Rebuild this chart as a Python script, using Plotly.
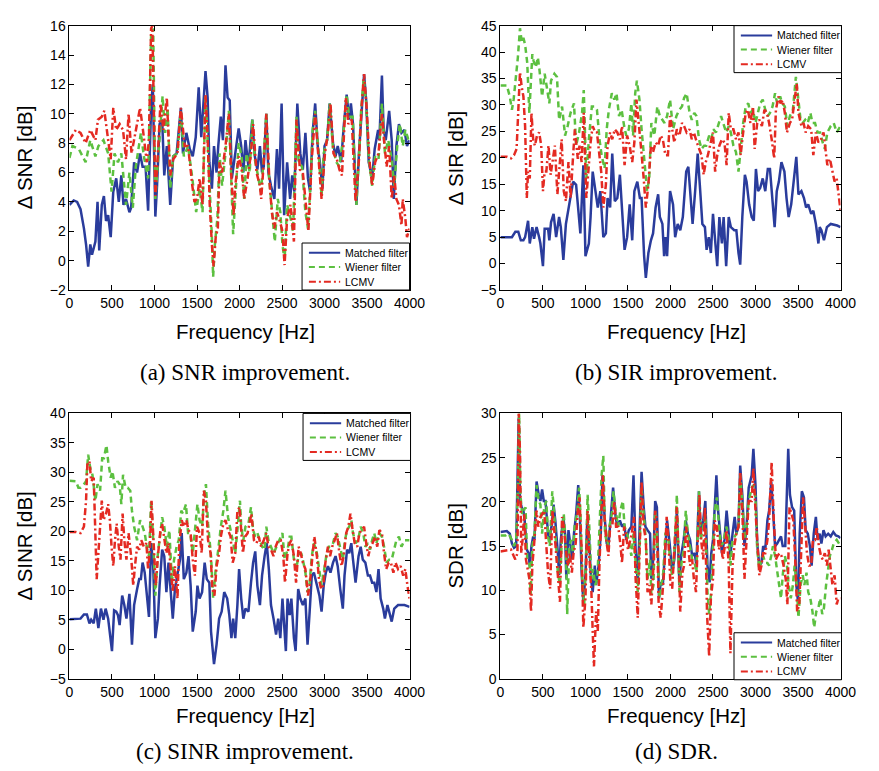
import plotly.graph_objects as go

W, H = 879, 771

# ---------------- (a) SNR improvement: (frequency [Hz], dB) ----------------
snr_matched = [(0,3.8),(50,4.1),(90,4.0),(130,3.5),(170,2.2),(195,1.1),(220,-0.4),(245,1.1),(265,0.4),(305,1.3),(330,4.0),(350,0.7),(380,3.8),(405,4.4),(430,2.7),(455,3.1),(485,1.6),(515,4.7),(550,5.6),(580,4.0),(610,5.8),(635,3.8),(665,4.2),(705,3.3),(725,3.6),(760,6.7),(795,6.0),(830,7.3),(860,6.4),(895,6.4),(925,3.4),(960,10.5),(980,12.0),(1010,3.0),(1030,5.1),(1060,9.3),(1090,9.6),(1115,5.8),(1145,7.8),(1185,3.8),(1220,7.1),(1260,7.3),(1310,10.4),(1335,7.3),(1375,8.7),(1415,7.6),(1450,7.1),(1485,8.4),(1520,11.8),(1550,8.4),(1600,12.9),(1625,11.1),(1645,6.7),(1675,4.9),(1700,7.8),(1730,6.0),(1750,7.8),(1780,9.8),(1805,8.2),(1835,13.3),(1860,11.1),(1885,10.9),(1910,5.6),(1950,7.3),(1990,9.0),(2020,7.8),(2045,6.0),(2070,8.2),(2105,6.4),(2150,9.6),(2180,7.1),(2210,6.2),(2240,7.8),(2265,6.0),(2285,6.4),(2315,10.0),(2340,6.0),(2370,5.1),(2410,4.2),(2440,7.6),(2465,4.9),(2495,10.7),(2525,3.1),(2560,6.7),(2595,4.2),(2620,5.8),(2645,4.7),(2680,10.7),(2715,7.3),(2745,6.2),(2775,8.7),(2805,5.6),(2830,4.7),(2860,8.7),(2890,10.7),(2920,7.8),(2945,6.7),(2975,4.9),(3000,7.8),(3030,8.2),(3060,10.7),(3100,8.0),(3130,7.1),(3155,7.8),(3195,6.7),(3225,9.1),(3260,11.3),(3290,9.6),(3310,10.7),(3335,9.3),(3375,3.8),(3405,7.3),(3435,10.2),(3465,12.7),(3490,10.9),(3520,6.7),(3560,5.6),(3590,7.6),(3630,8.9),(3645,8.2),(3675,12.6),(3695,8.9),(3720,8.2),(3760,10.2),(3790,8.2),(3815,4.2),(3845,7.8),(3875,9.3),(3905,8.7),(3940,8.9),(3970,7.8),(4000,8.2)]
snr_wiener = [(0,7.0),(35,7.8),(110,7.6),(190,6.7),(245,8.2),(305,7.1),(340,7.8),(400,8.2),(455,7.3),(495,4.7),(530,7.3),(570,6.7),(610,7.3),(665,3.8),(705,6.0),(745,3.6),(780,6.4),(840,8.7),(875,7.1),(925,5.6),(960,15.3),(985,15.8),(1010,4.2),(1040,6.7),(1070,9.6),(1095,11.2),(1125,8.7),(1155,10.4),(1185,4.9),(1220,7.1),(1270,7.3),(1310,10.2),(1345,7.1),(1395,7.8),(1445,5.6),(1490,3.3),(1530,4.9),(1565,3.3),(1600,11.3),(1625,8.2),(1650,4.2),(1675,1.6),(1690,-1.1),(1710,1.1),(1740,2.9),(1765,7.3),(1795,5.1),(1835,7.3),(1875,10.2),(1905,5.1),(1925,1.8),(1950,4.2),(1990,8.0),(2025,7.1),(2055,4.2),(2085,7.3),(2120,6.0),(2150,9.6),(2180,6.9),(2210,6.0),(2250,4.7),(2275,6.2),(2315,10.0),(2345,5.8),(2370,4.2),(2390,3.3),(2415,1.3),(2450,4.2),(2480,3.3),(2505,1.1),(2530,0.0),(2560,3.8),(2600,2.9),(2630,2.0),(2670,9.8),(2695,6.7),(2735,6.4),(2775,3.3),(2805,2.2),(2830,4.7),(2860,8.9),(2890,10.2),(2925,7.8),(2965,4.4),(2990,7.3),(3030,8.2),(3060,10.7),(3100,7.6),(3140,6.7),(3175,6.4),(3215,8.2),(3260,11.3),(3290,9.8),(3330,9.8),(3375,3.8),(3405,7.1),(3430,10.2),(3460,12.4),(3490,10.7),(3520,6.9),(3560,5.1),(3595,7.1),(3635,6.9),(3675,10.7),(3710,7.3),(3750,8.2),(3790,6.9),(3820,5.1),(3855,7.8),(3885,9.3),(3920,7.8),(3950,8.9),(4000,8.0)]
snr_lcmv = [(0,8.2),(75,8.9),(130,8.7),(190,8.0),(245,8.9),(305,8.2),(335,9.6),(380,9.8),(410,10.2),(455,8.2),(485,6.9),(515,10.4),(550,8.9),(590,9.3),(630,8.9),(665,6.9),(695,10.0),(730,7.3),(780,8.9),(830,10.4),(860,9.1),(910,6.7),(935,8.2),(960,15.8),(975,16.0),(1010,4.4),(1040,7.3),(1070,10.7),(1105,8.9),(1145,11.1),(1185,5.8),(1220,6.9),(1270,7.3),(1310,10.4),(1355,7.8),(1395,7.8),(1445,5.1),(1470,4.0),(1500,4.2),(1530,5.6),(1565,3.8),(1600,11.3),(1625,8.4),(1650,3.8),(1675,1.1),(1695,-0.4),(1720,1.6),(1745,2.2),(1765,6.7),(1795,6.0),(1835,7.8),(1875,10.0),(1905,5.6),(1930,3.1),(1950,5.1),(1990,7.1),(2025,6.2),(2055,4.2),(2095,5.6),(2135,7.3),(2160,9.3),(2200,6.0),(2240,5.1),(2255,4.2),(2285,6.7),(2315,10.0),(2350,5.6),(2380,3.3),(2410,2.2),(2440,3.3),(2465,2.9),(2505,2.0),(2530,-0.3),(2560,2.9),(2600,3.8),(2640,1.3),(2670,9.6),(2710,6.2),(2745,6.0),(2785,3.8),(2810,2.0),(2850,6.9),(2890,10.0),(2925,7.3),(2965,4.2),(3005,7.3),(3040,8.7),(3070,10.7),(3105,7.3),(3145,6.9),(3175,6.2),(3205,5.8),(3250,11.1),(3280,9.3),(3320,9.6),(3365,4.0),(3405,6.9),(3435,10.4),(3465,12.7),(3495,10.4),(3530,6.7),(3560,5.1),(3595,6.7),(3635,7.3),(3675,10.0),(3700,8.2),(3730,6.4),(3760,7.8),(3790,4.2),(3820,5.8),(3845,4.2),(3875,3.8),(3905,2.4),(3920,4.2),(3950,2.9),(3970,1.6),(4000,2.2)]

# ---------------- (b) SIR improvement ----------------
sir_matched = [(0,5.0),(135,5.0),(175,6.0),(210,6.0),(240,4.4),(270,4.4),(290,5.0),(325,8.1),(345,3.8),(375,6.9),(395,4.7),(425,6.9),(455,5.0),(470,3.8),(500,-0.5),(520,6.6),(560,6.6),(575,4.4),(595,7.8),(625,9.4),(655,5.0),(690,8.8),(710,6.9),(740,0.7),(770,7.5),(810,11.2),(855,15.5),(890,14.9),(940,5.7),(975,18.6),(1000,1.4),(1040,3.8),(1060,8.8),(1085,17.4),(1125,12.4),(1145,10.6),(1175,13.7),(1210,5.0),(1240,5.7),(1260,12.4),(1290,10.6),(1315,20.8),(1345,11.8),(1375,12.4),(1405,16.8),(1435,8.8),(1460,2.6),(1490,5.0),(1520,11.2),(1550,4.4),(1575,13.7),(1610,15.5),(1640,12.4),(1660,12.4),(1690,1.4),(1710,-2.7),(1740,2.0),(1770,4.4),(1795,5.7),(1825,10.6),(1855,13.1),(1875,8.8),(1905,7.5),(1925,1.4),(1940,5.0),(1960,1.4),(1995,13.7),(2030,11.2),(2055,5.0),(2085,7.5),(2115,6.3),(2145,8.8),(2185,17.4),(2210,18.3),(2240,12.4),(2260,7.5),(2290,13.7),(2320,20.8),(2345,14.9),(2375,7.5),(2405,6.9),(2425,2.6),(2450,5.0),(2475,2.0),(2500,9.4),(2530,3.2),(2550,-0.5),(2575,8.8),(2605,3.8),(2625,8.8),(2655,-0.5),(2685,8.8),(2710,6.9),(2750,6.3),(2775,6.3),(2800,2.0),(2820,-0.2),(2845,8.8),(2875,16.8),(2895,15.5),(2925,11.2),(2955,8.8),(2980,8.1),(3005,17.9),(3030,13.7),(3055,14.3),(3085,16.1),(3115,13.7),(3145,17.9),(3170,17.9),(3200,12.4),(3225,6.9),(3250,13.7),(3275,15.5),(3305,19.2),(3340,17.4),(3365,12.4),(3390,8.8),(3420,11.2),(3450,16.1),(3480,20.2),(3505,13.1),(3540,13.7),(3570,12.4),(3595,10.6),(3620,11.2),(3655,9.4),(3680,10.0),(3710,7.5),(3740,3.8),(3755,6.9),(3775,6.3),(3805,4.4),(3840,6.9),(3885,7.5),(3960,7.2),(4000,6.9)]
sir_wiener = [(0,33.7),(75,33.7),(110,31.6),(135,29.1),(155,31.0),(205,39.0),(230,44.5),(250,42.0),(270,42.7),(290,41.4),(315,38.0),(340,28.5),(355,33.4),(375,39.6),(390,38.3),(415,37.1),(440,39.0),(460,36.5),(490,31.6),(520,35.9),(545,33.4),(575,30.3),(595,34.6),(635,35.9),(665,35.3),(690,27.2),(725,29.7),(760,24.2),(790,26.0),(825,28.5),(865,30.3),(890,22.3),(925,24.8),(960,28.5),(980,32.8),(1010,16.1),(1040,23.5),(1075,29.7),(1110,29.7),(1135,29.1),(1165,23.5),(1190,20.5),(1225,18.0),(1250,25.4),(1275,29.1),(1310,32.2),(1340,31.0),(1365,32.2),(1395,27.9),(1425,29.1),(1455,26.0),(1480,24.2),(1510,25.4),(1540,30.3),(1560,24.2),(1585,32.2),(1605,34.6),(1635,31.0),(1660,25.4),(1690,20.5),(1725,13.7),(1750,16.1),(1775,26.6),(1810,24.2),(1845,29.7),(1875,27.9),(1905,27.2),(1930,26.6),(1960,27.9),(1995,31.0),(2030,25.4),(2070,27.9),(2105,29.1),(2135,29.7),(2160,31.3),(2190,32.2),(2225,28.5),(2250,27.2),(2280,28.5),(2305,27.9),(2335,23.5),(2365,21.7),(2395,22.3),(2420,22.3),(2455,24.2),(2480,23.5),(2505,25.4),(2535,24.8),(2570,26.6),(2595,27.9),(2620,26.6),(2655,24.8),(2685,26.0),(2710,24.8),(2740,22.3),(2770,21.1),(2800,17.4),(2825,21.1),(2855,26.6),(2885,29.7),(2915,30.3),(2940,28.5),(2970,29.1),(3000,26.6),(3030,28.5),(3055,30.3),(3085,31.0),(3115,29.1),(3145,27.9),(3170,28.5),(3200,29.7),(3230,32.2),(3255,30.3),(3290,31.6),(3315,30.3),(3345,29.7),(3375,26.0),(3405,27.9),(3440,29.1),(3475,35.3),(3500,31.6),(3530,27.2),(3555,26.6),(3585,27.2),(3615,26.6),(3645,28.5),(3670,26.6),(3700,26.6),(3730,24.8),(3760,24.8),(3790,22.9),(3815,21.7),(3845,24.8),(3885,26.0),(3920,26.6),(3955,24.8),(4000,26.0)]
sir_lcmv = [(0,20.2),(75,20.2),(125,19.9),(160,20.5),(190,21.7),(210,30.3),(230,36.2),(250,33.4),(270,31.6),(290,26.0),(310,12.4),(325,17.4),(345,16.1),(365,28.5),(385,23.5),(405,22.3),(430,24.2),(455,24.8),(480,22.3),(500,13.7),(520,17.4),(540,17.4),(565,22.3),(590,16.8),(615,19.2),(640,22.3),(670,13.1),(690,17.4),(720,23.5),(745,13.7),(770,11.8),(800,19.2),(825,12.4),(855,20.5),(875,25.4),(910,19.8),(930,22.3),(955,19.2),(980,28.5),(1010,12.4),(1030,17.4),(1060,22.9),(1085,26.0),(1115,24.8),(1135,24.8),(1160,20.5),(1185,17.4),(1210,10.6),(1240,14.9),(1260,22.3),(1290,24.8),(1315,23.5),(1345,25.4),(1375,24.8),(1405,23.5),(1430,26.0),(1460,18.6),(1490,24.2),(1520,22.3),(1550,19.2),(1575,22.9),(1600,31.0),(1625,27.2),(1655,21.7),(1685,16.1),(1710,10.6),(1740,14.9),(1770,22.3),(1795,21.1),(1825,22.9),(1855,22.3),(1885,24.2),(1910,23.5),(1940,20.5),(1970,20.5),(1995,27.9),(2020,25.4),(2045,22.9),(2075,25.4),(2105,24.2),(2135,26.6),(2160,26.0),(2190,24.8),(2225,25.4),(2250,23.5),(2275,24.8),(2310,22.9),(2335,21.7),(2365,20.5),(2390,16.8),(2415,19.2),(2440,20.5),(2470,22.9),(2500,24.8),(2525,17.4),(2550,20.5),(2575,22.3),(2605,23.5),(2635,22.9),(2660,18.6),(2685,28.5),(2710,25.4),(2740,25.4),(2770,23.5),(2800,24.8),(2825,20.5),(2855,24.8),(2885,28.5),(2910,29.1),(2940,26.6),(2970,29.7),(2990,21.7),(3020,26.6),(3045,27.2),(3075,26.0),(3105,29.1),(3135,28.5),(3160,26.6),(3190,23.5),(3220,19.9),(3240,29.1),(3270,31.6),(3295,30.3),(3320,30.9),(3345,28.5),(3370,24.8),(3405,26.6),(3430,27.2),(3460,31.0),(3485,34.0),(3505,28.5),(3540,26.0),(3565,26.6),(3590,24.8),(3620,26.0),(3655,25.4),(3680,20.5),(3710,24.8),(3740,22.9),(3770,23.5),(3800,24.8),(3825,21.7),(3845,18.6),(3875,19.8),(3905,17.4),(3930,15.5),(3955,16.1),(3975,13.1),(4000,10.0)]

# ---------------- (c) SINR improvement ----------------
sinr_matched = [(0,5.1),(130,5.2),(170,5.9),(205,5.9),(235,4.4),(255,5.0),(285,4.4),(310,6.9),(340,3.6),(370,6.9),(400,5.0),(425,6.9),(455,5.2),(475,3.0),(500,-0.3),(525,6.6),(550,6.4),(570,5.8),(590,4.1),(620,9.1),(645,7.5),(670,5.2),(705,9.4),(735,0.8),(760,7.5),(795,10.2),(820,11.9),(840,11.9),(860,14.7),(885,13.0),(910,9.1),(935,5.5),(960,18.0),(985,14.1),(1010,1.9),(1040,5.2),(1060,10.8),(1090,16.9),(1115,15.8),(1140,9.7),(1165,14.7),(1185,11.3),(1215,5.2),(1240,10.2),(1270,13.0),(1300,15.2),(1320,19.7),(1345,11.9),(1375,13.0),(1400,15.8),(1425,10.8),(1450,3.0),(1485,6.4),(1505,10.8),(1530,8.6),(1560,9.7),(1590,14.7),(1615,11.9),(1645,11.3),(1665,3.0),(1700,-2.5),(1730,0.8),(1760,5.2),(1790,6.4),(1820,9.7),(1855,8.6),(1880,5.8),(1905,1.9),(1925,5.2),(1950,1.9),(1975,7.5),(1995,13.6),(2020,8.6),(2045,5.2),(2070,6.9),(2105,6.4),(2135,11.3),(2160,14.7),(2185,16.6),(2210,10.8),(2240,7.5),(2265,12.5),(2295,15.8),(2320,18.0),(2345,13.6),(2370,7.5),(2400,5.2),(2430,2.5),(2455,5.2),(2480,1.9),(2505,8.6),(2525,3.0),(2545,-0.3),(2565,8.6),(2590,5.8),(2610,8.6),(2640,1.9),(2660,-0.3),(2690,10.2),(2715,8.6),(2745,7.5),(2775,8.6),(2800,0.8),(2825,6.4),(2850,12.5),(2875,13.0),(2910,10.8),(2940,9.1),(2965,6.4),(2990,10.8),(3015,13.0),(3040,14.1),(3070,13.0),(3100,14.7),(3130,15.8),(3155,14.1),(3185,10.2),(3215,6.9),(3235,12.5),(3265,16.9),(3290,16.3),(3315,18.0),(3335,15.2),(3365,11.3),(3400,15.8),(3425,17.4),(3450,15.2),(3480,14.7),(3510,12.5),(3535,12.5),(3560,11.3),(3585,11.3),(3610,9.7),(3635,13.6),(3660,8.6),(3690,6.9),(3710,5.2),(3740,7.5),(3760,6.4),(3790,4.7),(3820,6.9),(3865,7.5),(3940,7.5),(4000,7.2)]
sinr_wiener = [(0,28.6),(75,28.5),(105,27.4),(130,27.4),(170,28.0),(195,28.5),(220,33.0),(245,30.7),(270,29.6),(305,25.2),(330,28.0),(360,26.9),(385,32.4),(405,32.4),(435,34.6),(455,31.9),(485,29.1),(505,30.2),(535,27.4),(565,28.5),(590,28.0),(610,24.6),(630,29.6),(660,27.4),(685,27.4),(715,26.9),(735,23.5),(760,20.8),(795,18.5),(830,21.9),(860,20.8),(885,19.7),(915,16.9),(935,15.8),(960,25.2),(985,18.5),(1010,9.1),(1040,16.3),(1070,19.7),(1090,22.4),(1115,20.8),(1145,17.4),(1175,20.2),(1205,11.3),(1230,15.2),(1260,17.4),(1285,18.5),(1315,23.5),(1335,23.0),(1370,24.6),(1395,19.7),(1420,19.7),(1450,16.3),(1480,20.8),(1505,24.6),(1530,21.9),(1560,20.8),(1585,26.3),(1605,28.0),(1630,21.3),(1665,15.8),(1690,8.6),(1720,13.6),(1750,16.9),(1780,20.8),(1810,23.5),(1835,26.9),(1865,22.4),(1895,20.2),(1920,18.0),(1950,16.3),(1975,20.2),(2005,25.2),(2020,20.8),(2045,18.5),(2070,20.8),(2105,21.3),(2135,24.1),(2160,20.2),(2185,19.1),(2210,19.7),(2240,18.5),(2265,17.4),(2295,16.9),(2315,20.8),(2340,18.5),(2370,17.4),(2400,16.3),(2420,16.9),(2450,18.0),(2480,19.1),(2505,19.7),(2530,15.2),(2565,16.9),(2590,19.1),(2610,19.1),(2640,15.2),(2665,13.6),(2695,15.8),(2725,16.3),(2745,15.2),(2775,13.0),(2800,9.7),(2825,11.3),(2850,15.8),(2875,18.0),(2910,16.3),(2940,13.0),(2965,10.8),(2990,13.0),(3020,15.8),(3050,17.4),(3075,17.4),(3100,18.0),(3130,19.7),(3155,19.1),(3185,16.9),(3215,15.2),(3240,18.5),(3265,20.2),(3290,20.8),(3315,21.9),(3335,19.7),(3365,18.0),(3395,18.5),(3425,20.8),(3455,19.7),(3480,17.4),(3510,18.0),(3535,16.9),(3560,18.5),(3585,19.7),(3610,18.0),(3645,19.7),(3675,19.1),(3700,17.4),(3730,14.7),(3760,15.2),(3790,15.2),(3820,16.9),(3845,18.5),(3875,19.1),(3905,17.4),(3940,18.5),(4000,18.5)]
sinr_lcmv = [(0,19.9),(75,19.9),(130,19.7),(170,20.8),(195,25.2),(210,31.3),(235,31.9),(255,28.5),(285,29.1),(305,18.5),(320,11.9),(340,16.3),(360,21.3),(380,25.2),(400,21.9),(430,23.0),(455,24.6),(475,21.9),(495,17.4),(515,14.1),(535,18.5),(555,21.3),(580,17.4),(600,15.2),(625,23.0),(645,18.5),(670,15.2),(695,19.7),(725,15.8),(750,10.8),(770,14.1),(795,17.4),(820,16.9),(845,18.5),(875,17.4),(905,18.0),(925,13.5),(945,16.9),(965,25.2),(990,18.5),(1015,10.8),(1040,15.8),(1070,20.2),(1090,21.3),(1115,19.1),(1140,16.3),(1165,18.0),(1190,14.1),(1215,9.7),(1240,14.1),(1270,8.6),(1290,17.4),(1320,21.9),(1345,20.8),(1375,21.9),(1400,20.2),(1425,19.7),(1450,15.2),(1475,12.5),(1500,20.8),(1530,19.7),(1555,16.3),(1580,26.9),(1605,25.2),(1630,18.5),(1660,16.3),(1680,10.2),(1705,9.1),(1730,14.1),(1760,16.3),(1780,19.1),(1810,21.3),(1835,21.9),(1865,20.2),(1895,19.1),(1920,14.7),(1950,16.3),(1975,23.5),(2000,24.1),(2040,16.3),(2065,19.1),(2095,19.7),(2120,21.3),(2140,23.0),(2170,18.5),(2200,18.0),(2225,19.1),(2255,17.4),(2285,18.5),(2315,19.7),(2340,17.4),(2370,16.9),(2400,15.8),(2425,17.4),(2455,18.5),(2485,18.5),(2515,15.8),(2535,11.3),(2565,16.3),(2590,18.0),(2610,18.5),(2640,15.8),(2665,11.3),(2695,17.4),(2720,16.3),(2745,14.7),(2775,13.6),(2805,9.1),(2825,10.8),(2855,15.8),(2880,19.1),(2910,15.8),(2935,11.9),(2960,10.2),(2985,10.8),(3010,14.7),(3040,17.4),(3065,15.8),(3090,17.4),(3120,18.5),(3145,19.7),(3175,16.3),(3200,14.1),(3225,15.8),(3255,19.7),(3280,20.8),(3305,23.0),(3330,20.2),(3355,18.0),(3385,17.4),(3410,19.7),(3435,20.2),(3465,20.8),(3490,18.0),(3515,15.8),(3540,17.4),(3565,18.0),(3595,19.1),(3620,17.4),(3645,20.2),(3675,19.7),(3700,16.3),(3725,13.6),(3755,14.7),(3780,14.7),(3810,13.0),(3835,14.7),(3865,13.6),(3895,14.1),(3925,12.5),(3950,13.6),(3975,10.8),(4000,8.6)]

# ---------------- (d) SDR ----------------
sdr_matched = [(0,16.6),(75,16.7),(110,16.4),(135,15.3),(160,14.8),(185,15.0),(215,29.5),(230,20.1),(250,19.4),(270,19.0),(285,17.9),(310,14.6),(330,14.2),(345,12.8),(365,15.0),(385,16.1),(400,15.7),(425,22.3),(450,20.8),(470,20.1),(490,21.4),(510,20.1),(530,20.1),(560,16.4),(575,15.7),(605,17.5),(625,19.7),(645,17.9),(675,14.2),(690,11.7),(710,15.7),(740,18.3),(760,16.4),(775,11.3),(800,16.8),(820,15.3),(845,13.5),(865,16.4),(890,18.6),(915,21.9),(935,18.3),(955,12.0),(975,8.7),(1000,11.7),(1020,17.9),(1040,16.4),(1065,11.3),(1085,9.8),(1110,12.8),(1125,10.6),(1155,12.8),(1180,16.4),(1200,23.0),(1225,18.3),(1250,15.3),(1270,15.0),(1300,19.0),(1325,21.6),(1355,18.3),(1375,17.2),(1405,17.9),(1430,17.2),(1455,17.5),(1480,15.7),(1510,16.8),(1540,17.2),(1565,23.0),(1590,14.6),(1615,10.9),(1635,15.7),(1660,23.4),(1685,19.4),(1705,17.2),(1730,16.8),(1760,16.4),(1775,11.3),(1800,13.9),(1820,20.1),(1840,19.4),(1865,9.1),(1885,10.9),(1910,10.6),(1930,13.9),(1960,17.9),(1990,15.3),(2020,12.0),(2045,13.5),(2075,19.0),(2105,10.6),(2125,13.9),(2155,15.7),(2180,17.9),(2205,16.4),(2230,15.7),(2255,13.9),(2285,14.2),(2305,12.8),(2335,21.2),(2355,16.4),(2385,17.9),(2410,20.1),(2435,12.8),(2460,10.9),(2480,14.2),(2500,15.7),(2520,20.1),(2540,23.0),(2560,19.0),(2585,16.4),(2605,14.2),(2635,15.7),(2660,19.0),(2685,16.4),(2705,13.9),(2730,16.4),(2755,18.3),(2775,16.4),(2800,17.2),(2820,24.1),(2845,20.8),(2870,15.0),(2895,17.2),(2920,21.6),(2955,23.0),(2975,26.0),(3000,21.9),(3020,15.3),(3045,12.8),(3070,13.1),(3090,15.0),(3115,14.6),(3140,17.9),(3160,19.0),(3185,22.3),(3205,19.4),(3230,15.0),(3255,15.3),(3275,15.7),(3300,16.1),(3320,15.0),(3350,15.0),(3385,26.0),(3405,20.8),(3430,19.4),(3455,19.0),(3480,10.6),(3500,8.7),(3520,16.4),(3545,21.2),(3570,20.5),(3590,16.8),(3615,16.4),(3640,15.0),(3660,12.8),(3685,16.4),(3710,18.3),(3730,15.7),(3755,16.4),(3775,15.3),(3800,16.8),(3825,16.1),(3855,16.4),(3885,16.1),(3915,16.6),(3945,16.2),(3975,16.1),(4000,15.9)]
sdr_wiener = [(0,16.2),(60,16.2),(95,16.4),(135,15.7),(160,15.0),(185,15.7),(210,23.8),(220,30.0),(235,20.8),(255,18.6),(275,19.0),(295,19.4),(315,13.5),(340,13.1),(355,9.5),(375,15.0),(400,16.4),(425,21.9),(450,20.1),(470,19.7),(490,16.4),(515,19.4),(540,20.1),(560,16.1),(580,15.0),(610,21.2),(630,19.0),(655,15.7),(675,12.0),(700,10.6),(725,16.4),(745,18.6),(770,15.0),(785,7.3),(810,15.0),(830,15.7),(855,14.2),(875,17.5),(900,18.6),(925,21.6),(940,19.0),(965,10.6),(985,8.4),(1010,14.6),(1025,20.8),(1045,17.2),(1070,11.3),(1090,12.4),(1115,10.6),(1140,11.3),(1165,16.4),(1190,23.0),(1210,25.2),(1230,16.4),(1260,15.0),(1280,17.2),(1310,18.6),(1330,21.2),(1355,19.0),(1385,17.2),(1410,19.0),(1440,20.1),(1460,17.2),(1490,16.4),(1515,15.3),(1540,13.9),(1565,16.4),(1590,12.8),(1615,9.8),(1640,15.7),(1660,21.6),(1685,18.6),(1710,15.7),(1730,11.3),(1760,13.5),(1775,9.5),(1800,10.6),(1820,19.0),(1845,15.7),(1870,9.1),(1890,10.6),(1915,12.0),(1940,16.4),(1970,16.4),(2000,12.8),(2020,11.7),(2045,14.2),(2075,20.8),(2105,9.8),(2130,13.1),(2155,14.6),(2180,19.0),(2205,16.4),(2230,15.0),(2255,13.5),(2285,13.1),(2305,12.0),(2335,21.2),(2355,15.7),(2385,17.2),(2410,18.6),(2435,9.8),(2455,7.3),(2475,9.5),(2500,15.3),(2520,19.0),(2545,20.5),(2570,16.8),(2590,15.0),(2615,15.3),(2640,16.4),(2660,17.2),(2685,15.7),(2705,12.8),(2730,15.7),(2755,16.1),(2775,16.4),(2800,17.2),(2820,23.0),(2845,20.1),(2870,15.7),(2895,17.2),(2920,20.1),(2955,21.6),(2975,21.9),(3000,20.5),(3020,14.6),(3045,12.4),(3070,13.5),(3090,13.9),(3115,13.1),(3140,13.1),(3160,12.8),(3185,13.9),(3205,15.0),(3230,13.9),(3255,12.0),(3275,10.6),(3300,9.1),(3320,11.7),(3345,13.9),(3370,12.8),(3390,10.6),(3415,9.1),(3440,10.6),(3460,12.8),(3485,10.6),(3505,6.9),(3530,10.6),(3555,11.7),(3575,10.6),(3600,12.0),(3620,9.8),(3645,9.1),(3670,7.6),(3690,5.8),(3715,7.6),(3740,8.0),(3760,9.1),(3785,7.3),(3805,8.0),(3830,10.6),(3855,12.8),(3875,13.9),(3900,14.6),(3920,15.3),(3955,15.7),(3980,15.3),(4000,15.0)]
sdr_lcmv = [(0,14.4),(75,14.5),(125,14.6),(155,13.9),(175,13.5),(200,14.2),(215,30.0),(230,25.6),(245,14.2),(260,15.7),(280,18.6),(300,13.5),(320,12.4),(340,11.3),(360,7.6),(375,12.8),(400,15.7),(425,19.0),(445,17.2),(470,18.3),(490,18.6),(515,19.0),(540,15.0),(560,12.0),(585,10.2),(610,19.0),(630,17.2),(655,14.2),(675,11.3),(700,8.7),(725,18.3),(745,17.2),(770,14.6),(790,12.8),(815,14.2),(840,12.0),(860,14.2),(885,15.3),(910,19.0),(930,20.5),(955,14.6),(975,5.8),(1000,9.1),(1025,19.0),(1045,13.9),(1070,9.8),(1085,5.4),(1100,1.4),(1125,7.6),(1145,5.4),(1165,13.1),(1185,18.6),(1205,23.0),(1225,18.3),(1245,15.7),(1270,13.9),(1290,17.2),(1315,17.2),(1340,20.1),(1360,17.2),(1385,17.2),(1410,15.3),(1430,13.1),(1455,17.2),(1475,16.4),(1500,14.6),(1525,15.7),(1545,16.4),(1570,18.3),(1590,11.3),(1615,6.9),(1640,17.2),(1660,22.3),(1685,17.2),(1710,15.7),(1730,9.8),(1755,10.6),(1775,8.4),(1800,12.8),(1820,19.0),(1840,17.9),(1860,8.7),(1885,6.9),(1910,10.2),(1930,12.8),(1955,18.3),(1975,15.7),(2000,10.6),(2020,10.2),(2045,14.6),(2075,19.4),(2100,12.8),(2115,7.6),(2140,12.0),(2160,12.8),(2185,17.2),(2205,15.3),(2230,12.8),(2255,13.5),(2275,11.3),(2300,9.8),(2320,16.4),(2340,20.8),(2360,15.7),(2385,13.5),(2405,19.4),(2430,7.3),(2455,2.5),(2475,9.1),(2500,11.3),(2520,17.9),(2545,17.2),(2570,14.6),(2590,15.7),(2615,13.5),(2640,15.0),(2660,16.8),(2685,12.8),(2705,2.9),(2730,12.8),(2755,15.3),(2775,16.4),(2800,17.2),(2820,23.4),(2845,19.0),(2870,11.3),(2895,15.7),(2920,20.1),(2955,20.1),(2975,23.8),(3000,19.0),(3020,15.0),(3045,11.7),(3070,12.8),(3090,14.2),(3115,14.2),(3140,15.7),(3160,17.9),(3175,21.6),(3190,24.5),(3215,17.9),(3240,13.5),(3260,13.9),(3285,14.2),(3305,13.9),(3330,12.8),(3355,11.3),(3375,8.4),(3400,19.4),(3420,18.6),(3445,17.9),(3470,12.8),(3490,7.6),(3515,8.4),(3540,15.0),(3560,20.5),(3585,17.2),(3605,14.2),(3630,12.8),(3655,12.8),(3675,15.7),(3700,15.7),(3720,17.2),(3745,15.0),(3770,13.9),(3790,13.5),(3815,14.2),(3840,12.8),(3860,14.6),(3885,12.0),(3905,10.6),(3930,11.7),(3955,8.4),(3975,9.1),(4000,9.1)]

series_names = ["Matched filter", "Wiener filter", "LCMV"]
series_styles = [
    dict(color="#2a3c9c", width=2.5),
    dict(color="#5cc040", width=2.5, dash="6px,4px"),
    dict(color="#e42a22", width=2.5, dash="7px,3px,2px,3px"),
]
# legend swatches are drawn a little thinner than the curves
legend_styles = [
    dict(color="#2a3c9c", width=2),
    dict(color="#5cc040", width=2, dash="6px,4px"),
    dict(color="#e42a22", width=2, dash="7px,3px,2px,3px"),
]

freq_ticks = [0, 500, 1000, 1500, 2000, 2500, 3000, 3500, 4000]


def px(x):
    return x / W


def py(y):
    return 1 - y / H


# panel layout in screen pixels: box = (left, right, top, bottom); legend = top-left corner of its frame
panels = [
    dict(box=(67, 415, 18, 288), yrange=(-2, 16), dtick=2, ylabel="\u0394 SNR [dB]",
         caption="(a) SNR improvement.", data=(snr_matched, snr_wiener, snr_lcmv),
         legend=(305, 240), title_dy=42, caption_dy=84),
    dict(box=(508, 856, 18, 288), yrange=(-5, 45), dtick=5, ylabel="\u0394 SIR [dB]",
         caption="(b) SIR improvement.", data=(sir_matched, sir_wiener, sir_lcmv),
         legend=(747, 18), title_dy=42, caption_dy=84),
    dict(box=(67, 415, 414, 685), yrange=(-5, 40), dtick=5, ylabel="\u0394 SINR [dB]",
         caption="(c) SINR improvement.", data=(sinr_matched, sinr_wiener, sinr_lcmv),
         legend=(306, 414), title_dy=38, caption_dy=74),
    dict(box=(508, 856, 414, 685), yrange=(0, 30), dtick=5, ylabel="SDR [dB]",
         caption="(d) SDR.", data=(sdr_matched, sdr_wiener, sdr_lcmv),
         legend=(747, 638), title_dy=38, caption_dy=74),
]

TICK_FONT = dict(family="Liberation Sans, Arial, sans-serif", size=14, color="black")
TITLE_FONT = dict(family="Liberation Sans, Arial, sans-serif", size=20.5, color="black")
CAP_FONT = dict(family="Liberation Serif, Times New Roman, serif", size=23, color="black")
LEG_FONT = dict(family="Liberation Sans, Arial, sans-serif", size=10.5, color="black")

LEG_W, LEG_H = 110, 48
LEG_ROWS = (10, 24.5, 39.5)

fig = go.Figure()
layout = dict(
    width=W, height=H, margin=dict(l=0, r=0, t=0, b=0),
    paper_bgcolor="white", plot_bgcolor="white", showlegend=False,
)
annotations = []
shapes = []

for i, p in enumerate(panels):
    n = i + 1
    sfx = "" if n == 1 else str(n)
    left, right, top, bottom = p["box"]

    for name, style, pts in zip(series_names, series_styles, p["data"]):
        f = [q[0] for q in pts]
        v = [q[1] for q in pts]
        fig.add_trace(go.Scatter(
            x=f, y=v, mode="lines", name=name, line=style,
            xaxis=f"x{sfx}", yaxis=f"y{sfx}",
        ))

    axis_common = dict(
        showline=True, linecolor="black", linewidth=1, mirror="ticks",
        ticks="inside", ticklen=5, tickwidth=1, tickcolor="black",
        showgrid=False, zeroline=False, tickfont=TICK_FONT,
    )
    layout[f"xaxis{sfx}"] = dict(
        axis_common, domain=[px(left), px(right)], range=[0, 4000],
        tickvals=freq_ticks, anchor=f"y{sfx}",
    )
    y0, y1 = p["yrange"]
    layout[f"yaxis{sfx}"] = dict(
        axis_common, domain=[py(bottom), py(top)], range=[y0, y1],
        tick0=y0, dtick=p["dtick"], anchor=f"x{sfx}",
    )

    # boxed legend in the panel corner
    lx, ly = p["legend"]
    shapes.append(dict(
        type="rect", xref="paper", yref="paper",
        x0=px(lx), x1=px(lx + LEG_W), y0=py(ly + LEG_H), y1=py(ly),
        line=dict(color="black", width=1), fillcolor="white", layer="above",
    ))
    for name, style, dy in zip(series_names, legend_styles, LEG_ROWS):
        shapes.append(dict(
            type="line", xref="paper", yref="paper",
            x0=px(lx + 7), x1=px(lx + 39), y0=py(ly + dy), y1=py(ly + dy),
            line=style, layer="above",
        ))
        annotations.append(dict(
            text=name, x=px(lx + 42), y=py(ly + dy), xref="paper", yref="paper",
            showarrow=False, font=LEG_FONT, xanchor="left", yanchor="middle",
        ))

    cx = (left + right) / 2
    annotations.append(dict(
        text="Frequency [Hz]", x=px(cx + 6), y=py(bottom + p["title_dy"]), xref="paper", yref="paper",
        showarrow=False, font=TITLE_FONT, xanchor="center", yanchor="middle",
    ))
    annotations.append(dict(
        text=p["ylabel"], x=px(left - 46), y=py((top + bottom) / 2), xref="paper", yref="paper",
        showarrow=False, font=TITLE_FONT, textangle=-90, xanchor="center", yanchor="middle",
    ))
    annotations.append(dict(
        text=p["caption"], x=px(cx + 6), y=py(bottom + p["caption_dy"]), xref="paper", yref="paper",
        showarrow=False, font=CAP_FONT, xanchor="center", yanchor="middle",
    ))

layout["annotations"] = annotations
layout["shapes"] = shapes
fig.update_layout(**layout)
fig.write_html("out.html")
